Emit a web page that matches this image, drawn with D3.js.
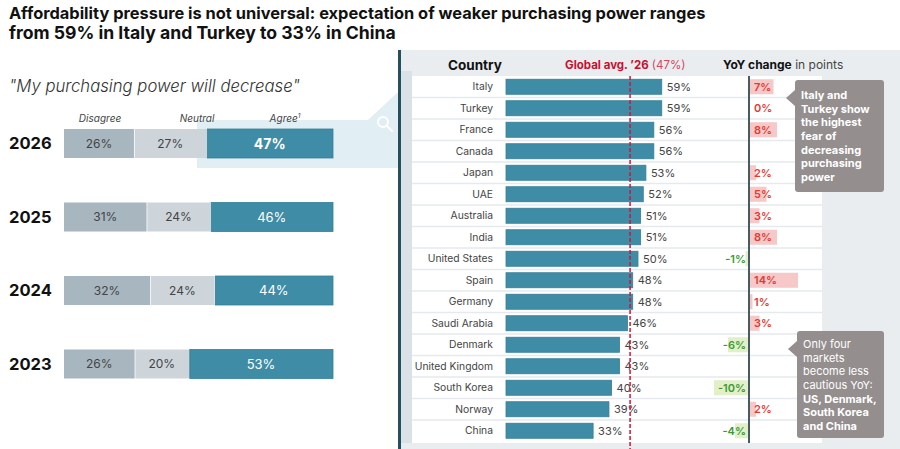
<!DOCTYPE html>
<html>
<head>
<meta charset="utf-8">
<script src="https://cdn.jsdelivr.net/npm/d3@7/dist/d3.min.js"></script>
<style>
  html, body { margin: 0; padding: 0; background: #fff; }
  svg { display: block; font-family: Inter, "Open Sans", sans-serif; }
</style>
</head>
<body>
<svg id="chart" width="900" height="449"></svg>
<script>
// ---------- DATA ----------
const years = ["2026", "2025", "2024", "2023"];
const disagree = [26, 31, 32, 26];
const neutral = [27, 24, 24, 20];
const agree = [47, 46, 44, 53];
const segmentNames = ["Disagree", "Neutral", "Agree"];

const countries = ["Italy", "Turkey", "France", "Canada", "Japan", "UAE", "Australia", "India",
  "United States", "Spain", "Germany", "Saudi Arabia", "Denmark", "United Kingdom",
  "South Korea", "Norway", "China"];
const share2026 = [59, 59, 56, 56, 53, 52, 51, 51, 50, 48, 48, 46, 43, 43, 40, 39, 33];
const yoyChange = [7, 0, 8, null, 2, 5, 3, 8, -1, 14, 1, 3, -6, null, -10, 2, -4];
const globalAvg = 47;

const titleLines = [
  "Affordability pressure is not universal: expectation of weaker purchasing power ranges",
  "from 59% in Italy and Turkey to 33% in China"
];
const subtitle = "\"My purchasing power will decrease\"";
const note1 = ["Italy and", "Turkey show", "the highest", "fear of", "decreasing", "purchasing", "power"];
const note2 = [["Only four", false], ["markets", false], ["become less", false], ["cautious YoY:", false],
  ["US, Denmark,", true], ["South Korea", true], ["and China", true]];

// ---------- SETUP ----------
const svg = d3.select("#chart");
const C = {
  dis: "#a8b6c0", neu: "#cdd5db", agr: "#3f8ca6", agrStroke: "#357f98",
  panel: "#e9edf0", strip: "#dbe2e7", dark: "#24505e", sep: "#e6eaee",
  red: "#c8102e", pinkBar: "#f7c8c8", pinkText: "#e23b33",
  greenBar: "#e2efc9", greenText: "#3c9a35", note: "#948e8e", hl: "#e1eef4"
};

function fitText(sel, target) {
  const n = sel.node();
  let fs = parseFloat(sel.attr("font-size"));
  const w = n.getComputedTextLength();
  if (w > 0) sel.attr("font-size", (fs * target / w).toFixed(2));
}

// ---------- RIGHT PANEL BACKGROUND ----------
svg.append("rect").attr("x", 401).attr("y", 50).attr("width", 499).attr("height", 399).attr("fill", C.panel);
svg.append("rect").attr("x", 401).attr("y", 71).attr("width", 11).attr("height", 372).attr("fill", C.strip);

// highlight connector
svg.append("path")
  .attr("d", "M197,120 L368,120 L398,92 L398,168 L197,168 Z")
  .attr("fill", C.hl);

// magnifier icon
const mg = svg.append("g").attr("stroke", "#fff").attr("stroke-width", 2).attr("fill", "none");
mg.append("circle").attr("cx", 383).attr("cy", 122).attr("r", 5);
mg.append("line").attr("x1", 387).attr("y1", 126).attr("x2", 392).attr("y2", 131).attr("stroke-linecap", "round");

// ---------- TITLE ----------
titleLines.forEach((t, i) => {
  const s = svg.append("text").attr("x", 9).attr("y", 19 + i * 19.5)
    .attr("font-size", 16.5).attr("font-weight", 700).attr("fill", "#111").text(t);
  fitText(s, i === 0 ? 697 : 387);
});
const sub = svg.append("text").attr("x", 9).attr("y", 92).attr("font-size", 17)
  .attr("font-style", "italic").attr("font-weight", 300).attr("fill", "#333").text(subtitle);
fitText(sub, 291);

// ---------- LEFT STACKED BARS ----------
const yLeft = d3.scalePoint().domain(years).range([143.5, 364]);
const barH = 29;
const leftRows = years.map((y, i) => {
  const vals = [disagree[i], neutral[i], agree[i]];
  const total = d3.sum(vals);
  const x = d3.scaleLinear().domain([0, total]).range([64, 333]);
  let cum = 0;
  const segs = vals.map((v, k) => { const s = { k, v, x0: x(cum), x1: x(cum + v) }; cum += v; return s; });
  return { year: y, i, segs };
});

// legend labels above 2026
const legendX = [100, 197, 285];
segmentNames.forEach((n, k) => {
  const t = svg.append("text").attr("x", legendX[k]).attr("y", 121.5).attr("text-anchor", "middle")
    .attr("font-size", 10).attr("font-style", "italic").attr("fill", "#444").text(n);
  if (k === 2) t.append("tspan").attr("font-size", 6.5).attr("dy", -4).text("1");
});

const lg = svg.append("g").selectAll("g").data(leftRows).join("g");
lg.append("text").attr("x", 9).attr("y", d => yLeft(d.year)).attr("dy", "0.36em")
  .attr("font-size", 16.5).attr("font-weight", 700).attr("fill", "#111").text(d => d.year);
const segColors = [C.dis, C.neu, C.agr];
lg.selectAll("rect").data(d => d.segs.map(s => ({ ...s, year: d.year }))).join("rect")
  .attr("x", s => s.x0 + (s.k > 0 ? 0.75 : 0))
  .attr("width", s => s.x1 - s.x0 - (s.k > 0 ? 0.75 : 0))
  .attr("y", s => yLeft(s.year) - barH / 2).attr("height", barH)
  .attr("fill", s => segColors[s.k])
  .attr("stroke", s => s.k === 2 ? C.agrStroke : "none").attr("stroke-width", 0.8);
lg.selectAll("text.seg").data(d => d.segs.map(s => ({ ...s, year: d.year }))).join("text")
  .attr("class", "seg")
  .attr("x", s => (s.x0 + s.x1) / 2).attr("y", s => yLeft(s.year)).attr("dy", "0.36em")
  .attr("text-anchor", "middle")
  .attr("font-size", s => s.k === 2 ? (s.year === "2026" ? 14 : 13) : 12)
  .attr("font-weight", s => s.k === 2 && s.year === "2026" ? 700 : 400)
  .attr("fill", s => s.k === 2 ? "#fff" : "#444")
  .text(s => s.v + "%");

// ---------- RIGHT PANEL ----------
const y = d3.scaleBand().domain(countries).range([76, 441.5]).paddingInner(0.3).paddingOuter(0.15);
const x = d3.scaleLinear().domain([0, 100]).range([506, 770]);
const xy = d3.scaleLinear().domain([-10, 14]).range([714, 798]);

// white rows area
svg.append("rect").attr("x", 412).attr("y", 76).attr("width", 410).attr("height", 367).attr("fill", "#fff");
// separators
svg.append("g").selectAll("line").data(countries.slice(1)).join("line")
  .attr("x1", 412).attr("x2", 822)
  .attr("y1", d => y(d) - y.paddingInner() * y.step() / 2)
  .attr("y2", d => y(d) - y.paddingInner() * y.step() / 2)
  .attr("stroke", C.sep).attr("stroke-width", 1.5);

// dark left rule
svg.append("rect").attr("x", 398).attr("y", 50).attr("width", 3).attr("height", 399).attr("fill", C.dark);

// header
svg.append("text").attr("x", 448).attr("y", 70).attr("font-size", 13.5).attr("font-weight", 700)
  .attr("fill", "#111").text("Country");
const gh = svg.append("text").attr("x", 565).attr("y", 69).attr("font-size", 11.5).attr("fill", C.red);
gh.append("tspan").attr("font-weight", 700).text("Global  avg. \u201926");
gh.append("tspan").attr("fill", "#d4475c").text(" (" + globalAvg + "%)");
const yh = svg.append("text").attr("x", 723).attr("y", 69).attr("font-size", 12).attr("fill", "#111");
yh.append("tspan").attr("font-weight", 700).text("YoY change");
yh.append("tspan").attr("fill", "#444").text(" in points");

const rows = countries.map((c, i) => ({ c, v: share2026[i], d: yoyChange[i] }));

// country labels
svg.append("g").selectAll("text").data(rows).join("text")
  .attr("x", 493).attr("y", d => y(d.c) + y.bandwidth() / 2).attr("dy", "0.36em")
  .attr("text-anchor", "end").attr("font-size", 10.3).attr("fill", "#444").text(d => d.c);

// bars
svg.append("g").selectAll("rect").data(rows).join("rect")
  .attr("x", x(0)).attr("y", d => y(d.c)).attr("height", y.bandwidth())
  .attr("width", d => x(d.v) - x(0))
  .attr("fill", C.agr).attr("stroke", C.agrStroke).attr("stroke-width", 0.8);
svg.append("g").selectAll("text").data(rows).join("text")
  .attr("x", d => x(d.v) + 5).attr("y", d => y(d.c) + y.bandwidth() / 2).attr("dy", "0.36em")
  .attr("font-size", 11).attr("fill", "#444").text(d => d.v + "%");

// global avg line
svg.append("line").attr("x1", x(globalAvg)).attr("x2", x(globalAvg)).attr("y1", 76).attr("y2", 449)
  .attr("stroke", "#d1143c").attr("stroke-width", 1.5).attr("stroke-dasharray", "4,2");

// YoY bars
const yoyRows = rows.filter(d => d.d !== null);
svg.append("g").selectAll("rect").data(yoyRows).join("rect")
  .attr("x", d => Math.min(xy(0), xy(d.d))).attr("y", d => y(d.c)).attr("height", y.bandwidth())
  .attr("width", d => Math.abs(xy(d.d) - xy(0)))
  .attr("fill", d => d.d < 0 ? C.greenBar : C.pinkBar);
svg.append("line").attr("x1", xy(0)).attr("x2", xy(0)).attr("y1", 76).attr("y2", 443)
  .attr("stroke", "#4a5a62").attr("stroke-width", 2);
svg.append("g").selectAll("text").data(yoyRows).join("text")
  .attr("x", d => d.d < 0 ? xy(0) - 3 : xy(0) + 5)
  .attr("y", d => y(d.c) + y.bandwidth() / 2).attr("dy", "0.36em")
  .attr("text-anchor", d => d.d < 0 ? "end" : "start")
  .attr("font-size", 11).attr("font-weight", 600)
  .attr("fill", d => d.d < 0 ? C.greenText : C.pinkText)
  .text(d => d.d + "%");

// ---------- NOTES ----------
function note(x0, y0, w, h, tipY, lines, firstY) {
  const g = svg.append("g");
  g.append("rect").attr("x", x0).attr("y", y0).attr("width", w).attr("height", h).attr("rx", 3).attr("fill", C.note);
  g.append("path").attr("d", `M${x0},${tipY - 8} L${x0 - 9},${tipY} L${x0},${tipY + 8} Z`).attr("fill", C.note);
  g.selectAll("text").data(lines).join("text")
    .attr("x", x0 + 6).attr("y", (d, i) => firstY + i * 13.7).attr("dy", "0.36em")
    .attr("font-size", 11).attr("fill", "#fff")
    .attr("font-weight", d => d[1] ? 700 : 400).text(d => d[0]);
}
note(795, 80, 89, 112, 98, note1.map(t => [t, true]), 95);
note(797, 331, 87, 107, 349, note2, 344);
</script>
</body>
</html>
